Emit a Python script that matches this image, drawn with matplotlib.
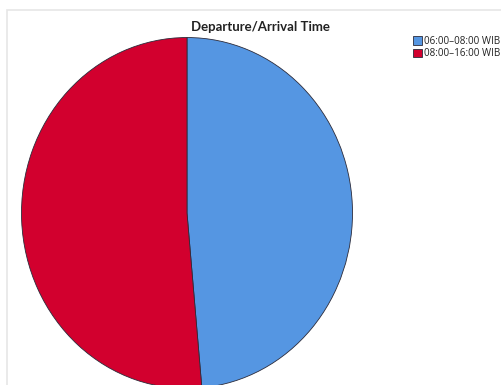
import matplotlib.pyplot as plt
from matplotlib.patches import Rectangle

labels = ['06:00\u201308:00 WIB', '08:00\u201316:00 WIB']
counts = [17, 18]
colors = ['#5596E2', '#D2002E']

W, H = 502, 385
fig = plt.figure(figsize=(W / 100, H / 100), dpi=100)
plt.rcParams['font.family'] = ['Open Sans', 'DejaVu Sans']

# light chart frame, open to the right and bottom
fig.patches.append(Rectangle((7 / W, -0.1), 1.2, 1 - 10 / H + 0.1,
                             transform=fig.transFigure, fill=False,
                             edgecolor='#e6e6e6', linewidth=1.2))

# pie spans x 21..353 px, y 37..389 px (slightly taller than wide)
ax = fig.add_axes([21 / W, (H - 389) / H, 332 / W, 352 / H])
wedges, _ = ax.pie(counts, colors=colors, startangle=90, counterclock=False,
                   radius=1, wedgeprops=dict(edgecolor='#2b2b3a', linewidth=0.6))
ax.set_xlim(-1.003, 1.003)
ax.set_ylim(-1.003, 1.003)
ax.set_aspect('auto')
ax.axis('off')

fig.text(260 / W, 1 - 27 / H, 'Departure/Arrival Time', ha='center', va='center',
         fontsize=9.5, fontweight='bold', color='#222222', family='Lato')

leg = fig.legend(wedges, labels, loc='upper left',
                 bbox_to_anchor=(413 / W, 1 - 36 / H), frameon=False,
                 borderpad=0, borderaxespad=0, handlelength=0.9,
                 handleheight=0.95, handletextpad=0.25, labelspacing=0.12,
                 fontsize=7.1)
for t in leg.get_texts():
    t.set_color('#222222')

fig.savefig('out.png', dpi=100)
